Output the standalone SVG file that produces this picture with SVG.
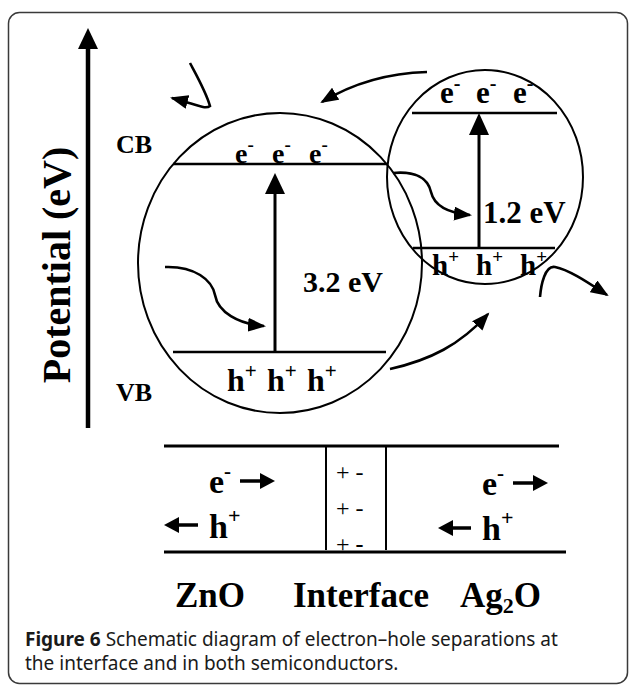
<svg xmlns="http://www.w3.org/2000/svg" width="629" height="686" viewBox="0 0 629 686">
<style>
.s{font-family:"Liberation Serif","Times New Roman",serif;font-weight:bold;fill:#000}
.r{font-family:"Liberation Serif","Times New Roman",serif;font-weight:normal;fill:#000}
.ln{stroke:#000;fill:none}
.cap{font-family:"Noto Sans","Open Sans",sans-serif;font-size:19px;fill:#1a1a1a}
</style>
<defs>
<marker id="ah" markerUnits="userSpaceOnUse" markerWidth="19" markerHeight="14" refX="16" refY="7" orient="auto">
<path d="M0,0 L18,7 L0,14 z" fill="#000"/>
</marker>
</defs>
<rect id="frame" x="8.5" y="12.5" width="619" height="671" rx="11" fill="#fff" stroke="#3a3a3a" stroke-width="1.5"/>
<g id="axis">
<line x1="88" y1="46" x2="88" y2="428" class="ln" stroke-width="4.5"/>
<polygon points="88,28 78,49 98,49" fill="#000"/>
<text class="s" font-size="40" text-anchor="middle" transform="translate(70,265) rotate(-90)">Potential (eV)</text>
<text class="s" x="116" y="153" font-size="26">CB</text>
<text class="s" x="116" y="401" font-size="26">VB</text>
</g>
<g id="zno">
<ellipse cx="280" cy="263" rx="142" ry="150" class="ln" stroke-width="2"/>
<line x1="173" y1="164" x2="387" y2="164" class="ln" stroke-width="2.5"/>
<line x1="173" y1="352" x2="386" y2="352" class="ln" stroke-width="2.5"/>
<line x1="275" y1="352" x2="275" y2="190" class="ln" stroke-width="3"/>
<polygon points="275,173 265,194 285,194" fill="#000"/>
<text class="s" x="235" y="163" font-size="28">e<tspan font-size="19" dy="-12">-</tspan></text>
<text class="s" x="272" y="163" font-size="28">e<tspan font-size="19" dy="-12">-</tspan></text>
<text class="s" x="309" y="163" font-size="28">e<tspan font-size="19" dy="-12">-</tspan></text>
<text class="s" x="227" y="391" font-size="32">h<tspan font-size="21" dy="-13">+</tspan></text>
<text class="s" x="267" y="391" font-size="32">h<tspan font-size="21" dy="-13">+</tspan></text>
<text class="s" x="307" y="391" font-size="32">h<tspan font-size="21" dy="-13">+</tspan></text>
<text class="s" x="303" y="292" font-size="30">3.2 eV</text>
</g>
<g id="ag2o">
<ellipse cx="485" cy="177" rx="98" ry="107" class="ln" stroke-width="2"/>
<line x1="412" y1="113" x2="557" y2="113" class="ln" stroke-width="2.5"/>
<line x1="413" y1="248" x2="555" y2="248" class="ln" stroke-width="2.5"/>
<line x1="479" y1="248" x2="479" y2="130" class="ln" stroke-width="3"/>
<polygon points="479,113 469,135 489,135" fill="#000"/>
<text class="s" x="440" y="103" font-size="31">e<tspan font-size="20" dy="-13">-</tspan></text>
<text class="s" x="476" y="103" font-size="31">e<tspan font-size="20" dy="-13">-</tspan></text>
<text class="s" x="513" y="103" font-size="31">e<tspan font-size="20" dy="-13">-</tspan></text>
<text class="s" x="432" y="275" font-size="29">h<tspan font-size="19" dy="-12">+</tspan></text>
<text class="s" x="476" y="275" font-size="29">h<tspan font-size="19" dy="-12">+</tspan></text>
<text class="s" x="520" y="275" font-size="29">h<tspan font-size="19" dy="-12">+</tspan></text>
<text class="s" x="483" y="223" font-size="31">1.2 eV</text>
</g>
<g id="connectors" class="ln" stroke-width="2.6">
<path d="M190,63 C198,78 206,92 210,106 C205,110 195,104 172,98" marker-end="url(#ah)"/>
<path d="M427,72 C390,73 355,82 322,102" marker-end="url(#ah)"/>
<path d="M165,267 C195,266 212,280 215,295 C218,312 238,324 264,326" marker-end="url(#ah)"/>
<path d="M393,173 C415,171 428,178 431,192 C434,205 448,213 470,215" marker-end="url(#ah)"/>
<path d="M390,369 C430,360 460,345 488,314" marker-end="url(#ah)"/>
<path d="M540,297 C541,285 545,265 555,267 C570,270 590,284 607,295" marker-end="url(#ah)"/>
</g>
<g id="junction">
<line x1="164" y1="446" x2="559" y2="446" class="ln" stroke-width="3"/>
<line x1="164" y1="552" x2="566" y2="552" class="ln" stroke-width="3"/>
<line x1="326" y1="446" x2="326" y2="550" class="ln" stroke-width="2"/>
<line x1="386" y1="446" x2="386" y2="550" class="ln" stroke-width="2"/>
<text class="s" x="209" y="493" font-size="34">e<tspan font-size="21" dy="-15">-</tspan></text>
<line x1="240" y1="481" x2="262" y2="481" class="ln" stroke-width="3.5"/>
<polygon points="275,481 260,473 260,489" fill="#000"/>
<text class="s" x="482" y="495" font-size="34">e<tspan font-size="21" dy="-15">-</tspan></text>
<line x1="513" y1="483" x2="535" y2="483" class="ln" stroke-width="3.5"/>
<polygon points="548,483 533,475 533,491" fill="#000"/>
<line x1="177" y1="525" x2="198" y2="525" class="ln" stroke-width="3.5"/>
<polygon points="164,525 179,517 179,533" fill="#000"/>
<text class="s" x="209" y="538" font-size="34">h<tspan font-size="22" dy="-15">+</tspan></text>
<line x1="451" y1="528" x2="471" y2="528" class="ln" stroke-width="3.5"/>
<polygon points="438,528 453,520 453,536" fill="#000"/>
<text class="s" x="482" y="540" font-size="34">h<tspan font-size="22" dy="-15">+</tspan></text>
<text class="r" x="336" y="480" font-size="24">+ -</text>
<text class="r" x="336" y="516" font-size="24">+ -</text>
<text class="r" x="336" y="552" font-size="24">+ <tspan font-weight="bold">-</tspan></text>
</g>
<g id="labels">
<text class="s" x="175" y="607" font-size="35">ZnO</text>
<text class="s" x="293" y="607" font-size="35">Interface</text>
<text class="s" x="460" y="607" font-size="35">Ag<tspan font-size="22" dy="6">2</tspan><tspan dy="-6">O</tspan></text>
</g>
<g id="caption">
<text class="cap" x="25" y="646"><tspan font-weight="bold">Figure 6</tspan> Schematic diagram of electron–hole separations at</text>
<text class="cap" x="25" y="670">the interface and in both semiconductors.</text>
</g>
</svg>
